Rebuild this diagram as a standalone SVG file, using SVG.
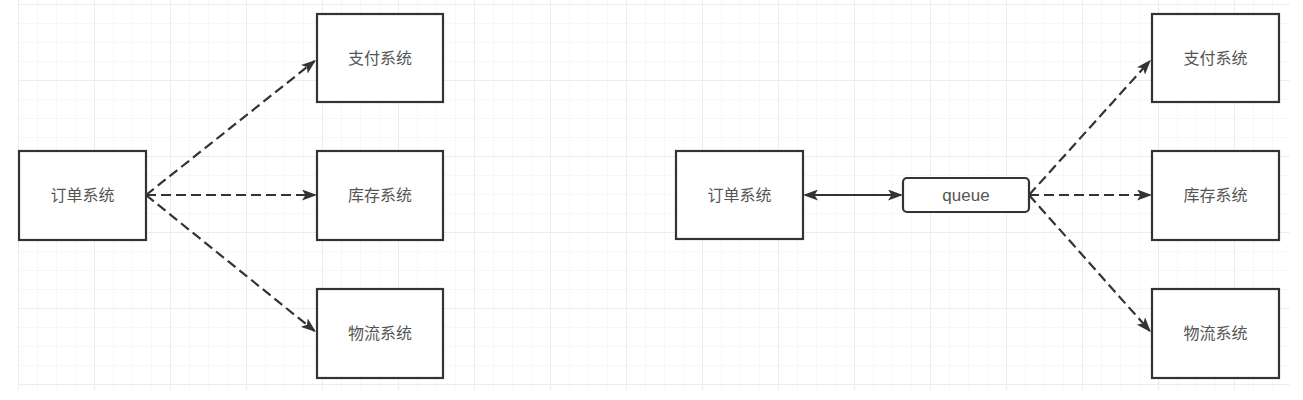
<svg xmlns="http://www.w3.org/2000/svg" width="1303" height="400" viewBox="0 0 1303 400">
<defs>
<pattern id="minor" x="18" y="4" width="19" height="19" patternUnits="userSpaceOnUse">
<path d="M19,0 L0,0 L0,19" fill="none" stroke="#efefef" stroke-width="1"/>
</pattern>
<pattern id="major" x="18" y="4" width="76" height="76" patternUnits="userSpaceOnUse">
<path d="M76,0 L0,0 L0,76" fill="none" stroke="#e4e4e4" stroke-width="1"/>
</pattern>
<marker id="arr" viewBox="0 0 15 11" refX="13" refY="5.5" markerWidth="15" markerHeight="11" markerUnits="userSpaceOnUse" orient="auto-start-reverse">
<path d="M0,0 L15,5.5 L0,11 L3.5,5.5 z" fill="#333"/>
</marker>
</defs>
<style>
.box{fill:#fff;stroke:#333;stroke-width:2.2}
.lbl{font-family:"Noto Sans CJK SC","Liberation Sans",sans-serif;font-size:16px;fill:#555;text-anchor:middle}
.dash{fill:none;stroke:#333;stroke-width:2.2;stroke-dasharray:10 5}
.solid{fill:none;stroke:#333;stroke-width:2.2}
</style>
<rect width="1303" height="400" fill="#fff"/>
<rect x="18" y="0" width="1272" height="390" fill="url(#minor)"/>
<rect x="18" y="0" width="1272" height="390" fill="url(#major)"/>

<g id="connectors">
<line class="dash" x1="146" y1="195" x2="314.4" y2="61.2" marker-end="url(#arr)"/>
<line class="dash" x1="146" y1="195" x2="315" y2="195" marker-end="url(#arr)"/>
<line class="dash" x1="146" y1="195" x2="314.4" y2="330.8" marker-end="url(#arr)"/>
<line class="solid" x1="805" y1="195" x2="901" y2="195" marker-start="url(#arr)" marker-end="url(#arr)"/>
<line class="dash" x1="1029" y1="195" x2="1149.6" y2="61.3" marker-end="url(#arr)"/>
<line class="dash" x1="1029" y1="195" x2="1150" y2="195" marker-end="url(#arr)"/>
<line class="dash" x1="1029" y1="195" x2="1149.6" y2="330.7" marker-end="url(#arr)"/>
</g>

<g id="order-left"><rect class="box" x="19" y="151" width="127" height="89"/><text class="lbl" x="82.5" y="201">订单系统</text></g>
<g id="pay-left"><rect class="box" x="317" y="14" width="126" height="88"/><text class="lbl" x="380" y="64">支付系统</text></g>
<g id="stock-left"><rect class="box" x="317" y="151" width="126" height="89"/><text class="lbl" x="380" y="201">库存系统</text></g>
<g id="logistics-left"><rect class="box" x="317" y="289" width="126" height="89"/><text class="lbl" x="380" y="339">物流系统</text></g>

<g id="order-right"><rect class="box" x="676" y="151" width="127" height="88"/><text class="lbl" x="739.5" y="201">订单系统</text></g>
<g id="queue"><rect class="box" x="903" y="178" width="126" height="34" rx="4"/><text class="lbl" x="966" y="201" style="font-family:'Liberation Sans',sans-serif;font-size:17px">queue</text></g>
<g id="pay-right"><rect class="box" x="1152" y="14" width="127" height="88"/><text class="lbl" x="1215.5" y="64">支付系统</text></g>
<g id="stock-right"><rect class="box" x="1152" y="151" width="127" height="89"/><text class="lbl" x="1215.5" y="201">库存系统</text></g>
<g id="logistics-right"><rect class="box" x="1152" y="289" width="127" height="89"/><text class="lbl" x="1215.5" y="339">物流系统</text></g>
</svg>
